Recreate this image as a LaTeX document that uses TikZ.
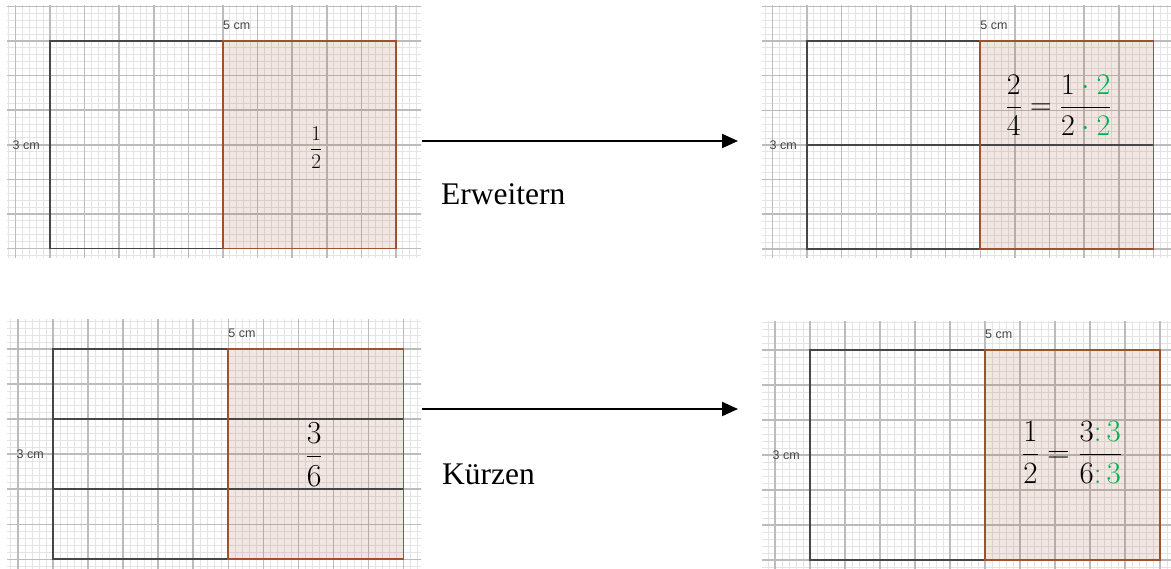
\RequirePackage{fix-cm}
\documentclass[tikz,border=0pt]{standalone}
\usepackage{fontspec}
\usepackage{amsmath}
\usepackage{tikz}
\usetikzlibrary{arrows.meta}
\newfontfamily\wordfont{Liberation Serif}
\newfontfamily\lblfont{Liberation Sans}
\definecolor{rahmen}{RGB}{70,70,70}
\definecolor{braun}{RGB}{160,80,45}
\definecolor{gruen}{RGB}{0,176,80}
\definecolor{gitter}{RGB}{188,188,188}
\definecolor{feingitter}{RGB}{228,228,228}
\tikzset{
    minorgrid/.style={feingitter, line width=0.9pt},
    majorgrid/.style={gitter, line width=1.5pt},
    outline/.style={rahmen, line width=1.8pt},
    brownedge/.style={braun, line width=1.8pt},
    halffill/.style={fill=braun, fill opacity=0.14},
    cmlabel/.style={inner sep=0pt, text=rahmen, font=\lblfont\fontsize{12.5}{14}\selectfont},
    wordlabel/.style={inner sep=0pt, font=\wordfont\fontsize{31.5}{36}\selectfont},
    bigarrow/.style={line width=2pt, -{Triangle[length=16pt,width=14pt]}},
}
% #1-#4 clip box, #5,#6 corner of the rectangle, #7 one cm
\newcommand{\paper}[7]{%
    \begin{scope}
        \clip (#1,#2) rectangle (#3,#4);
        \begin{scope}[shift={(#5,#6)}, x=#7pt, y=-#7pt]
            \foreach \k in {-10,...,65}
                \draw[minorgrid] (\k/5,-3) -- (\k/5,9);
            \foreach \k in {-10,...,45}
                \draw[minorgrid] (-3,\k/5) -- (13,\k/5);
            \foreach \k in {-2,...,13}
                \draw[majorgrid] (\k,-3) -- (\k,9);
            \foreach \k in {-2,...,9}
                \draw[majorgrid] (-3,\k) -- (13,\k);
        \end{scope}
    \end{scope}}
\begin{document}
\begin{tikzpicture}[x=1pt, y=-1pt]
    \fill[white] (0,0) rectangle (1171,569);
    \useasboundingbox (0,0) rectangle (1171,569);

    \paper{7}{6}{421}{258}{50}{41}{34.6}
    \begin{scope}[shift={(50,41)}, x=34.6pt, y=-34.6pt]
        \fill[halffill] (5,0) rectangle (10,6);
        \draw[outline] (5,0) -- (0,0) -- (0,6) -- (5,6);
        \draw[brownedge] (5,0) rectangle (10,6);
        \node[cmlabel, anchor=base west, yshift=11pt] (breiteA) at (5,0) {5 cm};
        \node[cmlabel, anchor=east, xshift=-10pt] (hoeheA) at (0,3) {3 cm};
        \node (bruchA) at (7.69,3.09) {\fontsize{21}{25}\selectfont$\displaystyle\frac{1}{2}$};
    \end{scope}

    \paper{762}{6}{1171}{258}{807}{41}{34.65}
    \begin{scope}[shift={(807,41)}, x=34.65pt, y=-34.65pt]
        \fill[halffill] (5,0) rectangle (10,6);
        \draw[outline] (5,0) -- (0,0) -- (0,6) -- (5,6);
        \draw[outline] (0,3) -- (10,3);
        \draw[brownedge] (5,0) rectangle (10,6);
        \node[cmlabel, anchor=base west, yshift=11pt] (breiteB) at (5,0) {5 cm};
        \node[cmlabel, anchor=east, xshift=-10pt] (hoeheB) at (0,3) {3 cm};
        \node (bruchB) at (7.26,1.85) {\fontsize{30}{34}\selectfont$\displaystyle\frac{2}{4}=\frac{1\mathbin{\color{gruen}\cdot}\textcolor{gruen}{2}}{2\mathbin{\color{gruen}\cdot}\textcolor{gruen}{2}}$};
    \end{scope}

    \paper{7}{320}{421}{569}{53}{349}{35.05}
    \begin{scope}[shift={(53,349)}, x=35.05pt, y=-35.05pt]
        \fill[halffill] (5,0) rectangle (10,6);
        \draw[outline] (5,0) -- (0,0) -- (0,6) -- (5,6);
        \draw[outline] (0,2) -- (10,2);
        \draw[outline] (0,4) -- (10,4);
        \draw[brownedge] (5,0) rectangle (10,6);
        \node[cmlabel, anchor=base west, yshift=11pt] (breiteC) at (5,0) {5 cm};
        \node[cmlabel, anchor=east, xshift=-9pt] (hoeheC) at (0,3) {3 cm};
        \node (bruchC) at (7.45,3.01) {\fontsize{32}{36}\selectfont$\displaystyle\frac{3}{6}$};
    \end{scope}

    \paper{762}{322}{1171}{569}{810}{350}{35}
    \begin{scope}[shift={(810,350)}, x=35pt, y=-35pt]
        \fill[halffill] (5,0) rectangle (10,6);
        \draw[outline] (5,0) -- (0,0) -- (0,6) -- (5,6);
        \draw[brownedge] (5,0) rectangle (10,6);
        \node[cmlabel, anchor=base west, yshift=11pt] (breiteD) at (5,0) {5 cm};
        \node[cmlabel, anchor=east, xshift=-10pt] (hoeheD) at (0,3) {3 cm};
        \node (bruchD) at (7.49,2.93) {\fontsize{31}{35}\selectfont$\displaystyle\frac{1}{2}=\frac{3\mathpunct{\color{gruen}:}\textcolor{gruen}{3}}{6\mathpunct{\color{gruen}:}\textcolor{gruen}{3}}$};
    \end{scope}

    \coordinate (pfeilAs) at (422,141);
    \coordinate (pfeilAe) at (738,141);
    \coordinate (pfeilBs) at (422,409);
    \coordinate (pfeilBe) at (738,409);
    \draw[bigarrow] (pfeilAs) -- (pfeilAe);
    \draw[bigarrow] (pfeilBs) -- (pfeilBe);

    \node[wordlabel, anchor=base west] (erweitern) at (441,205) {Erweitern};
    \node[wordlabel, anchor=base west] (kuerzen) at (442,485) {Kürzen};
\end{tikzpicture}
\end{document}
